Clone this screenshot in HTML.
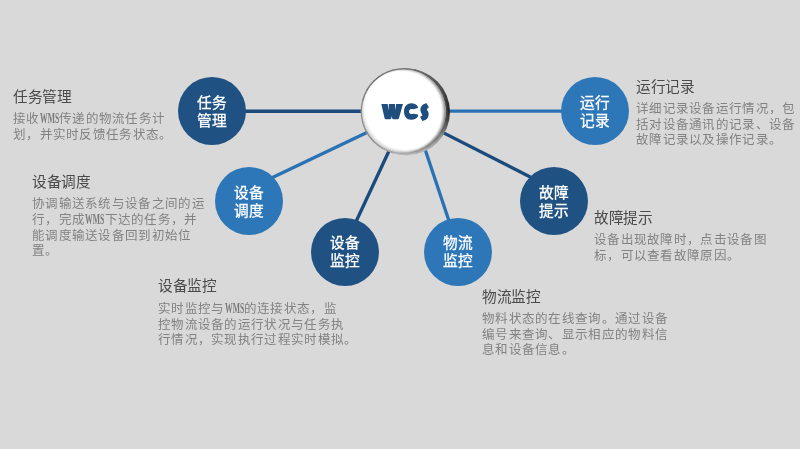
<!DOCTYPE html>
<html lang="zh-CN">
<head>
<meta charset="utf-8">
<title>WCS</title>
<style>
html,body{margin:0;padding:0;}
body{width:800px;height:449px;overflow:hidden;background:#d9d9d9;position:relative;font-family:"Liberation Serif",serif;}
svg.lines{position:absolute;left:0;top:0;width:800px;height:449px;}
.node{position:absolute;-webkit-text-stroke:0.3px #fff;width:68px;height:68px;border-radius:50%;color:#fff;font-family:"Liberation Sans",sans-serif;font-size:14.67px;line-height:18px;text-align:center;display:flex;align-items:center;justify-content:center;}
.dk{background:#1f5182;}
.lt{background:#2d76b8;}
.h{position:absolute;margin:0;letter-spacing:-0.3px;font-weight:normal;font-size:14.67px;line-height:16px;color:#4a4a4a;white-space:nowrap;}
.p{position:absolute;margin:0;letter-spacing:0.3px;font-size:12.5px;line-height:15.7px;color:#828282;white-space:nowrap;}
.en{display:inline-block;width:19.4px;font-size:14px;font-weight:bold;color:#7a7a7a;line-height:0;letter-spacing:0;transform:scaleX(.55);transform-origin:0 50%;}
.node span{position:relative;top:1.4px;}
.h,.p,.node{will-change:transform;}
</style>
</head>
<body>
<svg class="lines" viewBox="0 0 800 449">
  <g stroke-width="3.3" fill="none">
    <line x1="230" y1="111.25" x2="380" y2="111.25" stroke="#1b4b7c"/>
    <line x1="390" y1="121.4" x2="262" y2="182.6" stroke="#2b72b5"/>
    <line x1="396.45" y1="135" x2="349.75" y2="235" stroke="#1b4b7c"/>
    <line x1="420.3" y1="135" x2="453.7" y2="235" stroke="#2b72b5"/>
    <line x1="420" y1="120.9" x2="542" y2="183" stroke="#1b4b7c"/>
    <line x1="430" y1="111.2" x2="580" y2="111.2" stroke="#2b72b5"/>
  </g>
</svg>

<div class="node dk" style="left:178.1px;top:77.2px;"><span style="top:0.5px">任务<br>管理</span></div>
<div class="node lt" style="left:215px;top:167px;"><span>设备<br>调度</span></div>
<div class="node dk" style="left:311.3px;top:218px;"><span style="top:0.4px">设备<br>监控</span></div>
<div class="node lt" style="left:424px;top:218px;"><span style="top:0.4px">物流<br>监控</span></div>
<div class="node dk" style="left:520.2px;top:167px;"><span>故障<br>提示</span></div>
<div class="node lt" style="left:560.7px;top:77px;"><span>运行<br>记录</span></div>

<svg style="position:absolute;left:350px;top:57px;" width="110" height="110" viewBox="0 0 110 110">
  <defs>
    <linearGradient id="cres" x1="0" y1="0" x2="0" y2="1">
      <stop offset="0" stop-color="#6a6a6a"/><stop offset="0.18" stop-color="#505050"/><stop offset="0.48" stop-color="#262626"/><stop offset="0.64" stop-color="#555"/><stop offset="0.8" stop-color="#999"/><stop offset="1" stop-color="#bbb"/>
    </linearGradient>
    <clipPath id="hubclip"><circle cx="53.8" cy="53.9" r="42.60"/></clipPath>
    <filter id="b1" x="-20%" y="-20%" width="140%" height="140%"><feGaussianBlur stdDeviation="1.1"/></filter>
    <filter id="b2" x="-20%" y="-20%" width="140%" height="140%"><feGaussianBlur stdDeviation="0.9"/></filter>
  </defs>
  <g transform="translate(0.3,0.5)">
  <circle cx="56.3" cy="54.5" r="43.4" fill="url(#cres)"/>
  <circle cx="53.8" cy="53.9" r="42.30" fill="#fff"/>
  <g clip-path="url(#hubclip)" fill="none" stroke="#000" stroke-width="12">
    <circle cx="51.4" cy="53.9" r="47.90" stroke-opacity=".4" filter="url(#b1)"/>
    <circle cx="52.4" cy="52.1" r="48.30" stroke-opacity=".06" filter="url(#b2)"/>
    <circle cx="55.4" cy="51.3" r="48.30" stroke-opacity=".15" filter="url(#b2)"/>
  </g>
  <g fill="none" stroke-width="1.3">
    <path d="M53.35,11.05 A42.85,42.85 0 0 1 65.32,12.63" stroke="#757575"/><path d="M64.46,12.40 A42.85,42.85 0 0 1 75.61,17.02" stroke="#6a6a6a"/><path d="M74.84,16.57 A42.85,42.85 0 0 1 84.42,23.92" stroke="#5f5f5f"/><path d="M83.78,23.28 A42.85,42.85 0 0 1 91.13,32.86" stroke="#555555"/><path d="M90.68,32.09 A42.85,42.85 0 0 1 95.30,43.24" stroke="#4b4b4b"/><path d="M95.07,42.38 A42.85,42.85 0 0 1 96.65,54.35" stroke="#414141"/><path d="M96.65,53.45 A42.85,42.85 0 0 1 95.07,65.42" stroke="#494949"/><path d="M95.30,64.56 A42.85,42.85 0 0 1 90.68,75.71" stroke="#636363"/><path d="M91.13,74.94 A42.85,42.85 0 0 1 83.78,84.52" stroke="#7d7d7d"/><path d="M84.42,83.88 A42.85,42.85 0 0 1 74.84,91.23" stroke="#939393"/><path d="M75.61,90.78 A42.85,42.85 0 0 1 64.46,95.40" stroke="#a5a5a5"/><path d="M65.32,95.17 A42.85,42.85 0 0 1 53.35,96.75" stroke="#b7b7b7"/><path d="M54.25,96.75 A42.85,42.85 0 0 1 42.28,95.17" stroke="#b7b7b7"/><path d="M43.14,95.40 A42.85,42.85 0 0 1 31.99,90.78" stroke="#a6a6a6"/><path d="M32.76,91.23 A42.85,42.85 0 0 1 23.18,83.88" stroke="#959595"/><path d="M23.82,84.52 A42.85,42.85 0 0 1 16.47,74.94" stroke="#8d8d8d"/><path d="M16.92,75.71 A42.85,42.85 0 0 1 12.30,64.56" stroke="#8e8e8e"/><path d="M12.53,65.42 A42.85,42.85 0 0 1 10.95,53.45" stroke="#8f8f8f"/><path d="M10.95,54.35 A42.85,42.85 0 0 1 12.53,42.38" stroke="#8b8b8b"/><path d="M12.30,43.24 A42.85,42.85 0 0 1 16.92,32.09" stroke="#808080"/><path d="M16.47,32.86 A42.85,42.85 0 0 1 23.82,23.28" stroke="#757575"/><path d="M23.18,23.92 A42.85,42.85 0 0 1 32.76,16.57" stroke="#727272"/><path d="M31.99,17.02 A42.85,42.85 0 0 1 43.14,12.40" stroke="#757575"/><path d="M42.28,12.63 A42.85,42.85 0 0 1 54.25,11.05" stroke="#787878"/>
  </g>
  </g>
</svg>
<svg style="position:absolute;left:376px;top:94px;" width="58" height="34" viewBox="0 0 766 449" aria-label="WCS">
  <g fill="#1f4e7e">
    <path d="M70,132 L155,132 L163,214 L171,132 L250,132 L258,214 L266,132 L356,132 L302,322 Q298,332 288,332 L228,332 Q218,332 214,320 L208,290 L202,320 Q198,332 188,332 L128,332 Q118,332 114,322 Z"/>
    <path d="M554,186 L552,168 C540,138 508,121 465,121 C405,121 370,168 370,231 C370,294 405,340 465,340 C510,340 545,322 557,292 L554,272 L494,262 C487,264 479,265 471,265 C449,265 435,250 435,231 C435,212 449,197 471,197 C479,197 487,198 494,200 Z"/>
    <path d="M668,122 L698,178 L672,197 C672,205 676,212 682,222 C702,248 700,292 680,320 C665,340 640,351 612,356 L582,300 L612,288 C612,280 606,266 598,250 C578,222 582,175 610,150 C625,135 645,126 668,122 Z"/>
  </g>
</svg>

<h3 class="h" style="left:13px;top:88.6px;">任务管理</h3>
<p class="p" style="left:12.5px;top:111px;line-height:16px;">接收<span class="en">WMS</span>传递的物流任务计<br>划，并实时反馈任务状态。</p>

<h3 class="h" style="left:31.7px;top:173.8px;">设备调度</h3>
<p class="p" style="left:31.5px;top:196.5px;line-height:15.8px;">协调输送系统与设备之间的运<br>行，完成<span class="en">WMS</span>下达的任务，并<br>能调度输送设备回到初始位<br>置。</p>

<h3 class="h" style="left:158.3px;top:277.9px;">设备监控</h3>
<p class="p" style="left:157.7px;top:302.1px;line-height:15.7px;">实时监控与<span class="en">WMS</span>的连接状态，监<br>控物流设备的运行状况与任务执<br>行情况，实现执行过程实时模拟。</p>

<h3 class="h" style="left:481.9px;top:288.8px;">物流监控</h3>
<p class="p" style="left:481.8px;top:312.4px;line-height:15.6px;">物料状态的在线查询。通过设备<br>编号来查询、显示相应的物料信<br>息和设备信息。</p>

<h3 class="h" style="left:594.4px;top:210.45px;">故障提示</h3>
<p class="p" style="left:594.4px;top:232.2px;line-height:16.1px;">设备出现故障时，点击设备图<br>标，可以查看故障原因。</p>

<h3 class="h" style="left:635.5px;top:78.7px;">运行记录</h3>
<p class="p" style="left:635.5px;top:102.2px;line-height:15.5px;">详细记录设备运行情况，包<br>括对设备通讯的记录、设备<br>故障记录以及操作记录。</p>
</body>
</html>
